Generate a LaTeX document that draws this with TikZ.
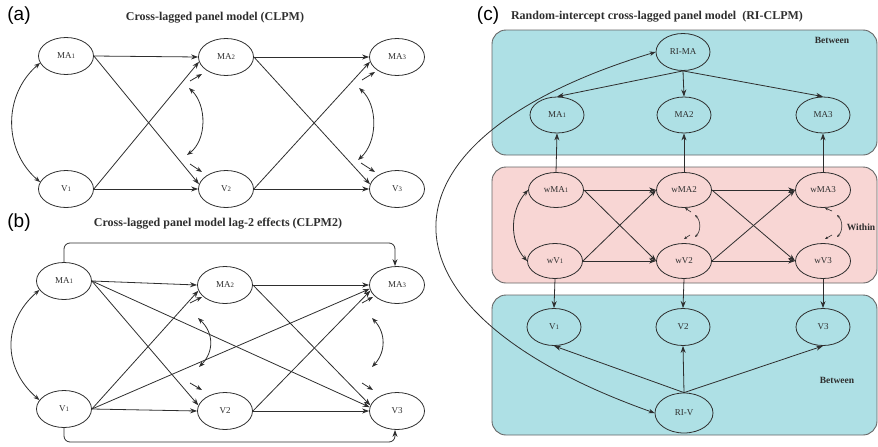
\documentclass[tikz,border=0pt]{standalone}
\usepackage{fontspec}
\setmainfont{Liberation Serif}
\newfontfamily\lsans{Liberation Sans}
\usetikzlibrary{arrows.meta,shapes.geometric,calc}
\newcommand{\dg}[1]{{\fontsize{6.8}{7}\selectfont #1}}
\definecolor{betweencol}{HTML}{AEE0E5}
\definecolor{withincol}{HTML}{F8D6D4}
\definecolor{linecol}{HTML}{2E2E2E}
\definecolor{boxline}{HTML}{666666}
\tikzset{
  var/.style={ellipse,draw=linecol,line width=0.8pt,minimum width=55pt,minimum height=37pt,
    inner sep=0pt,font=\fontsize{9}{10}\selectfont,text=linecol},
  varc/.style={var,minimum width=54pt,minimum height=36pt},
  path/.style={draw=linecol,line width=0.8pt,-{Stealth[length=7pt,width=5pt]}},
  cov/.style={draw=linecol,line width=0.8pt,{Stealth[length=6pt,width=4.5pt]}-{Stealth[length=6pt,width=4.5pt]}},
  tinycov/.style={draw=linecol,line width=0.6pt,{Stealth[length=3pt,width=2.5pt]}-{Stealth[length=3pt,width=2.5pt]}},
  resid/.style={draw=linecol,line width=0.8pt,-{Stealth[length=6pt,width=4.5pt]}},
  tinyresid/.style={draw=linecol,line width=0.6pt,-{Stealth[length=3pt,width=2.5pt]}},
  paneltag/.style={font=\lsans\fontsize{19}{20}\selectfont,text=black},
  paneltitle/.style={font=\bfseries\fontsize{12}{13}\selectfont,text=linecol},
  levellabel/.style={font=\bfseries\fontsize{9.5}{10}\selectfont,text=linecol},
  levelbox/.style={draw=boxline,line width=0.9pt,rounded corners=14pt}
}
\begin{document}
\begin{tikzpicture}[x=1pt,y=-1pt]
\useasboundingbox (0,0) rectangle (878,447);

% ---------------- (a) CLPM ----------------
\node[paneltag] (tagA) at (19,16) {(a)};
\node[paneltitle] (titleA) at (215,18) {Cross-lagged panel model (CLPM)};
\node[var] (MA1a) at (66,56) {MA\dg{1}};
\node[var] (MA2a) at (226,57) {MA\dg{2}};
\node[var] (MA3a) at (397,57) {MA\dg{3}};
\node[var] (V1a) at (66,189) {V\dg{1}};
\node[var] (V2a) at (226,189) {V\dg{2}};
\node[var] (V3a) at (397,189) {V\dg{3}};
\foreach \s/\t in {1/2,2/3}{
  \draw[path] (MA\s a.east) -- (MA\t a.west);
  \draw[path] (MA\s a.east) -- (V\t a.170);
  \draw[path] (V\s a.east) -- (MA\t a.190);
  \draw[path] (V\s a.east) -- (V\t a.west);
}
\draw[cov] (MA1a.195) .. controls +(-37,32) and +(-37,-32) .. (V1a.165);
% residual terms
\coordinate (ea2s) at (190,81); \coordinate (ea2t) at (202,74);
\coordinate (ev2s) at (190,164); \coordinate (ev2t) at (202,172);
\coordinate (ca2t) at (189,88); \coordinate (ca2b) at (187,155);
\draw[resid] (ea2s) -- (ea2t);
\draw[resid] (ev2s) -- (ev2t);
\draw[cov] (ca2t) .. controls (207,105) and (207,140) .. (ca2b);
\coordinate (ea3s) at (362,80); \coordinate (ea3t) at (375,72);
\coordinate (ev3s) at (361,163); \coordinate (ev3t) at (375,172);
\coordinate (ca3t) at (359,88); \coordinate (ca3b) at (358,160);
\draw[resid] (ea3s) -- (ea3t);
\draw[resid] (ev3s) -- (ev3t);
\draw[cov] (ca3t) .. controls (378,105) and (378,142) .. (ca3b);

% ---------------- (b) CLPM2 ----------------
\node[paneltag] (tagB) at (19,223) {(b)};
\node[paneltitle] (titleB) at (218,224) {Cross-lagged panel model lag-2 effects (CLPM2)};
\node[var] (MA1b) at (64,281) {MA\dg{1}};
\node[var] (MA2b) at (225,285) {MA\dg{2}};
\node[var] (MA3b) at (397,285) {MA\dg{3}};
\node[var] (V1b) at (64,409) {V\dg{1}};
\node[var] (V2b) at (225,411) {V2};
\node[var] (V3b) at (397,411) {V3};
\foreach \s/\t in {1/2,2/3}{
  \draw[path] (MA\s b.east) -- (MA\t b.west);
  \draw[path] (MA\s b.east) -- (V\t b.168);
  \draw[path] (V\s b.east) -- (MA\t b.192);
  \draw[path] (V\s b.east) -- (V\t b.west);
}
\draw[path] (MA1b.east) -- (V3b.172);
\draw[path] (V1b.east) -- (MA3b.188);
% lag-2 autoregressive paths
\coordinate (lagtop) at (230,243);
\coordinate (lagbot) at (230,442);
\draw[path,rounded corners=6pt] (MA1b.north) |- (lagtop) -| ([xshift=-2pt]MA3b.north);
\draw[path,rounded corners=6pt] (V1b.south) |- (lagbot) -| ([xshift=-2pt]V3b.south);
\draw[cov] (MA1b.200) .. controls +(-37,32) and +(-37,-32) .. (V1b.160);
\coordinate (eb2s) at (190,303); \coordinate (eb2t) at (202,297);
\coordinate (fb2s) at (190,383); \coordinate (fb2t) at (202,390);
\coordinate (cb2t) at (198,318); \coordinate (cb2b) at (199,367);
\draw[resid] (eb2s) -- (eb2t);
\draw[resid] (fb2s) -- (fb2t);
\draw[cov] (cb2t) .. controls (214,333) and (214,352) .. (cb2b);
\coordinate (eb3s) at (362,303); \coordinate (eb3t) at (373,297);
\coordinate (fb3s) at (362,383); \coordinate (fb3t) at (373,390);
\coordinate (cb3t) at (372,318); \coordinate (cb3b) at (372,367);
\draw[resid] (eb3s) -- (eb3t);
\draw[resid] (fb3s) -- (fb3t);
\draw[cov] (cb3t) .. controls (386,333) and (386,352) .. (cb3b);

% ---------------- (c) RI-CLPM ----------------
\node[paneltag] (tagC) at (488,16) {(c)};
\node[paneltitle] (titleC) at (657,17) {Random-intercept cross-lagged panel model\ \ (RI-CLPM)};
\filldraw[levelbox,fill=betweencol] (492,30) rectangle (877,155);
\filldraw[levelbox,fill=withincol] (492,167) rectangle (877,283);
\filldraw[levelbox,fill=betweencol] (492,295) rectangle (877,435);
\node[levellabel] (betweenTop) at (832,40) {Between};
\node[levellabel] (withinLab) at (861,227) {Within};
\node[levellabel] (betweenBot) at (837,380) {Between};

\node[varc,minimum height=37pt] (RIMA) at (683,52) {RI-MA};
\node[varc] (MA1c) at (557,115) {MA\dg{1}};
\node[varc] (MA2c) at (684,115) {MA2};
\node[varc] (MA3c) at (823,115) {MA3};
\node[varc,minimum width=55pt,minimum height=35pt] (wMA1) at (556,190) {wMA\dg{1}};
\node[varc,minimum width=55pt,minimum height=35pt] (wMA2) at (684,190) {wMA2};
\node[varc,minimum width=55pt,minimum height=35pt] (wMA3) at (823,190) {wMA3};
\node[varc,minimum width=55pt,minimum height=35pt] (wV1) at (555,261) {wV\dg{1}};
\node[varc,minimum width=55pt,minimum height=35pt] (wV2) at (684,261) {wV2};
\node[varc,minimum width=55pt,minimum height=35pt] (wV3) at (823,261) {wV3};
\node[varc,minimum height=37pt] (V1c) at (554,327) {V\dg{1}};
\node[varc,minimum height=37pt] (V2c) at (683,327) {V2};
\node[varc,minimum height=37pt] (V3c) at (823,327) {V3};
\node[varc,minimum width=58pt,minimum height=40pt] (RIV) at (684,413) {RI-V};

% random intercepts
\foreach \k in {1,2,3}{
  \draw[path] (RIMA.south) -- (MA\k c.north);
  \draw[path] (RIV.north) -- (V\k c.south);
  \draw[path] (wMA\k.north) -- (MA\k c.south);
  \draw[path] (wV\k.south) -- (V\k c.north);
}
\draw[cov] (RIMA.west) .. controls (364,140) and (364,310) .. (RIV.west);

% within-person cross-lagged paths
\foreach \s/\t in {1/2,2/3}{
  \draw[path] (wMA\s.east) -- (wMA\t.west);
  \draw[path] (wMA\s.east) -- (wV\t.west);
  \draw[path] (wV\s.east) -- (wMA\t.west);
  \draw[path] (wV\s.east) -- (wV\t.west);
}
\draw[cov] (wMA1.west) .. controls +(-18,20) and +(-18,-20) .. (wV1.west);
\coordinate (ew2s) at (691,212); \coordinate (ew2t) at (685,208);
\coordinate (fw2s) at (690,235); \coordinate (fw2t) at (684,239);
\coordinate (cw2t) at (695,215); \coordinate (cw2b) at (695,237);
\draw[tinyresid] (ew2s) -- (ew2t);
\draw[tinyresid] (fw2s) -- (fw2t);
\draw[tinycov] (cw2t) .. controls (701,221) and (701,231) .. (cw2b);
\coordinate (ew3s) at (832,211); \coordinate (ew3t) at (825,208);
\coordinate (fw3s) at (832,235); \coordinate (fw3t) at (825,239);
\coordinate (cw3t) at (837,215); \coordinate (cw3b) at (837,237);
\draw[tinyresid] (ew3s) -- (ew3t);
\draw[tinyresid] (fw3s) -- (fw3t);
\draw[tinycov] (cw3t) .. controls (843,221) and (843,231) .. (cw3b);
\end{tikzpicture}
\end{document}
